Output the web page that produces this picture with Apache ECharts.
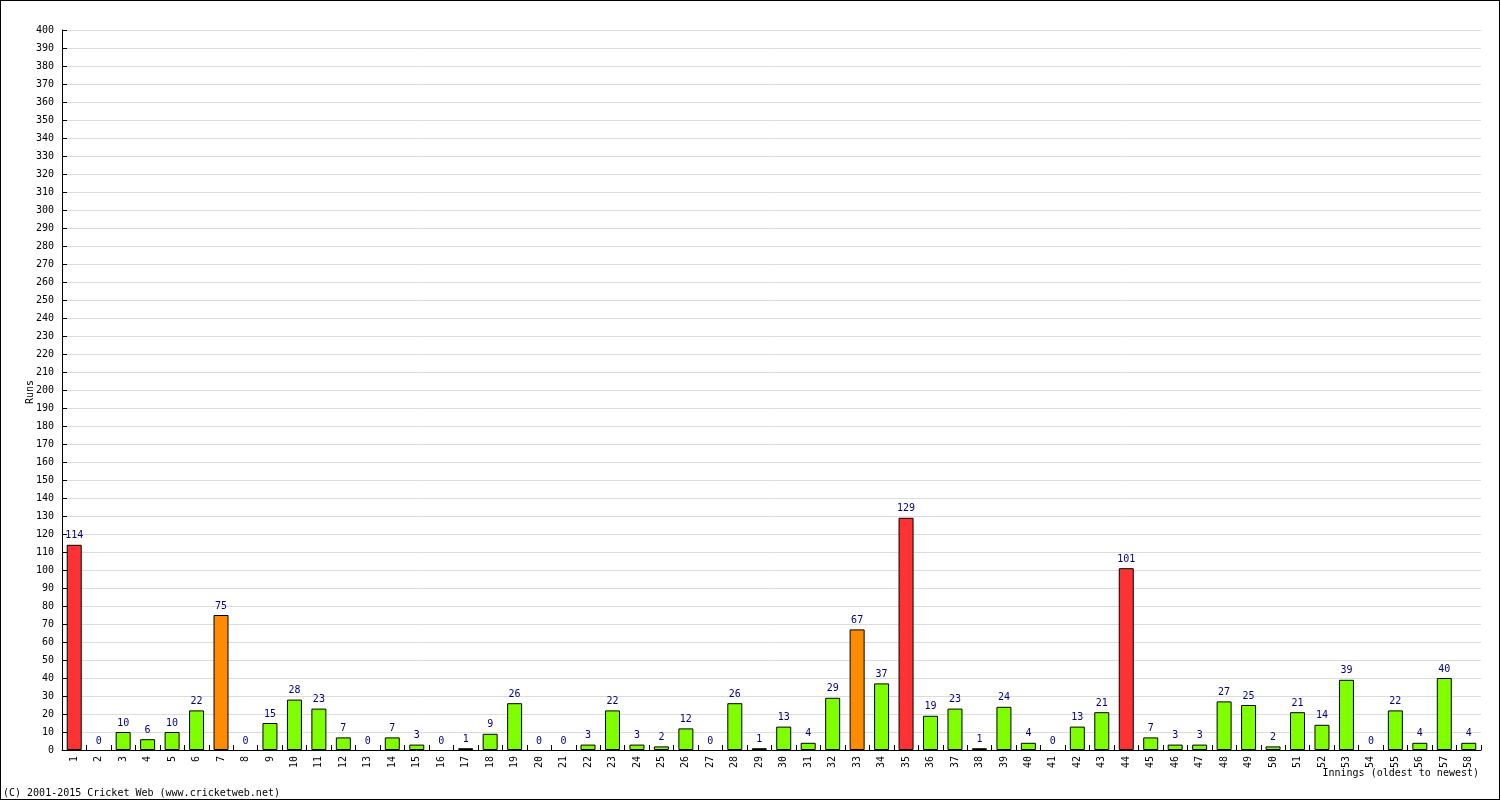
<!DOCTYPE html>
<html>
<head>
<meta charset="utf-8">
<script src="https://cdn.jsdelivr.net/npm/echarts@6/dist/echarts.min.js"></script>
<style>
html,body{margin:0;padding:0;background:#fff;}
#c{width:1500px;height:800px;box-sizing:border-box;border:1px solid #000;}
</style>
</head>
<body>
<div id="c"></div>
<script>
const innings = [];
for (let i = 1; i <= 58; i++) innings.push(String(i));
const runs = [114,0,10,6,10,22,75,0,15,28,23,7,0,7,3,0,1,9,26,0,0,3,22,3,2,12,0,26,1,13,4,29,67,37,129,19,23,1,24,4,0,13,21,101,7,3,3,27,25,2,21,14,39,0,22,4,40,4];
const yMin = 0, yMax = 400, yStep = 10;
const colHundred = '#ff3333', colFifty = '#ff8c00', colOther = '#80ff00';
const footer = '(C) 2001-2015 Cricket Web (www.cricketweb.net)';
const xName = 'Innings (oldest to newest)';
const yName = 'Runs';

const font = 'DejaVu Sans Mono, monospace';
const chart = echarts.init(document.getElementById('c'), null, {renderer: 'canvas'});
chart.setOption({
  animation: false,
  backgroundColor: '#fff',
  grid: {left: 61, right: 18, top: 29, bottom: 49, containLabel: false},
  graphic: [
    {type: 'text', left: 2, bottom: 1, style: {text: footer, font: '10px ' + font, fill: '#000'}},
    {type: 'text', right: 20, top: 767, style: {text: xName, font: '10px ' + font, fill: '#000'}},
    {type: 'text', x: 24, y: 403, rotation: Math.PI / 2, style: {text: yName, font: '10px ' + font, fill: '#000'}}
  ],
  xAxis: {
    type: 'category',
    data: innings,
    axisLine: {lineStyle: {color: '#000', width: 1}},
    axisTick: {show: true, inside: true, length: 5, lineStyle: {color: '#000'}},
    axisLabel: {rotate: 90, fontFamily: font, fontSize: 10, color: '#000', margin: 6, interval: 0}
  },
  yAxis: {
    type: 'value',
    min: yMin, max: yMax, interval: yStep,
    axisLine: {show: true, lineStyle: {color: '#000', width: 1}},
    axisTick: {show: true, inside: true, length: 5, lineStyle: {color: '#000'}},
    axisLabel: {fontFamily: font, fontSize: 10, color: '#000', margin: 8},
    splitLine: {show: true, lineStyle: {color: '#dcdcdc', width: 1}}
  },
  series: [{
    type: 'bar',
    barWidth: 15,
    data: runs.map(v => ({
      value: v,
      itemStyle: {color: v >= 100 ? colHundred : (v >= 50 ? colFifty : colOther), borderColor: '#000', borderWidth: v === 0 ? 0 : 1}
    })),
    label: {show: true, position: 'top', distance: 4, fontFamily: font, fontSize: 10, color: '#000080'}
  }]
});
</script>
</body>
</html>
